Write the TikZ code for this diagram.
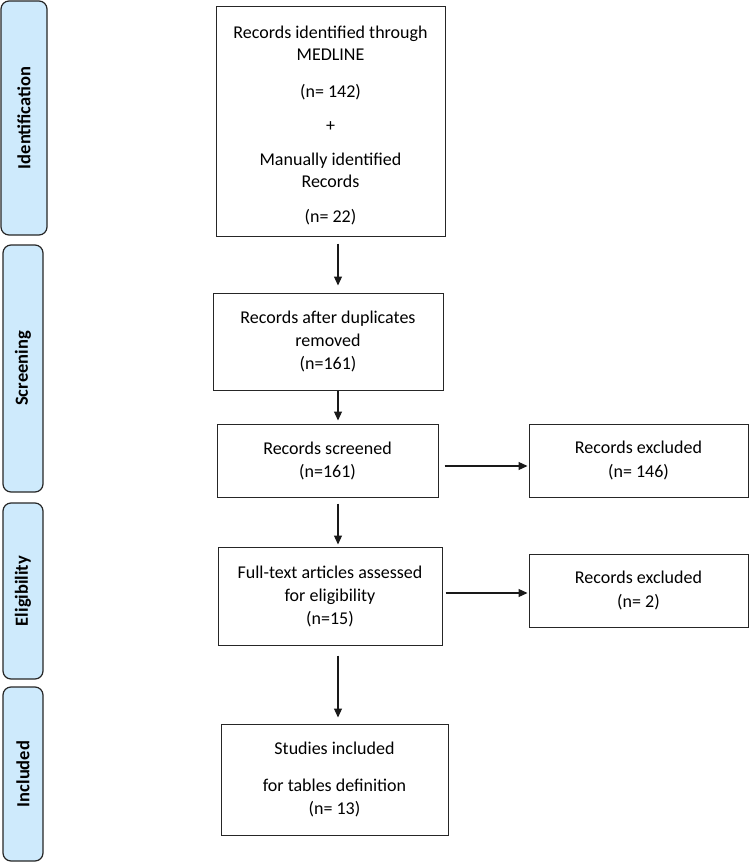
\documentclass[tikz,border=0pt]{standalone}
\usepackage{fontspec}
\setmainfont{Carlito}
\usetikzlibrary{arrows.meta,positioning}
\definecolor{phaseblue}{RGB}{206,234,252}
\tikzset{%
        >={Triangle[length=9pt,width=8pt]},
        x=1pt,
        y=-1pt
}
\tikzstyle{stepbox}=[
    draw = black!85,
    line width = 1pt,
    align = center,
    inner sep = 0pt,
    font = \fontsize{18}{23}\selectfont
]
\tikzstyle{phase}=[
    draw = black!85,
    fill = phaseblue,
    line width = 1.2pt,
    rounded corners = 8pt,
    rotate = 90,
    inner sep = 0pt,
    font = \bfseries\fontsize{18.5}{21}\selectfont
]
\tikzstyle{flow}=[
    ->,
    draw = black!90,
    line width = 1.2pt
]

\begin{document}
\begin{tikzpicture}
    \useasboundingbox (0,0) rectangle (749,864);
    % phases on the left
    \node[phase, minimum width=234, minimum height=46] (pid) at (24,118) {Identification};
    \node[phase, minimum width=247, minimum height=40] (pscr) at (23,368.5) {Screening};
    \node[phase, minimum width=176, minimum height=40] (pel) at (23,591) {Eligibility};
    \node[phase, minimum width=174, minimum height=40] (pinc) at (23,774) {Included};
    % main column
    \node[stepbox, minimum width=229, minimum height=229, font=\fontsize{18}{21.5}\selectfont] (id) at (330.5,121.5)
        {\rule{0pt}{21pt}Records identified through\\MEDLINE\\[16pt](n= 142)\\[12pt]+\\[13pt]Manually identified\\Records\\[14pt](n= 22)};
    \node[stepbox, minimum width=230, minimum height=97] (dup) at (328,341.5)
        {Records after duplicates\\removed\\(n=161)};
    \node[stepbox, minimum width=221, minimum height=73] (scr) at (327.5,460.5)
        {Records screened\\(n=161)};
    \node[stepbox, minimum width=224, minimum height=98] (full) at (330,596)
        {Full-text articles assessed\\for eligibility\\(n=15)};
    \node[stepbox, minimum width=227, minimum height=111] (incl) at (334.5,779.5)
        {Studies included\\[14pt]for tables definition\\(n= 13)};
    % exclusions
    \node[stepbox, minimum width=219, minimum height=73, font=\fontsize{18}{24.5}\selectfont] (exc1) at (638.5,460.5)
        {Records excluded\\(n= 146)};
    \node[stepbox, minimum width=219, minimum height=73, font=\fontsize{18}{24}\selectfont] (exc2) at (638.5,590.5)
        {Records excluded\\(n= 2)};
    % arrows
    \coordinate (axis) at (338,0);
    \coordinate (row1) at (0,466);
    \coordinate (row2) at (0,593);
    \draw[flow, shorten <=7pt, shorten >=7pt] (id.south -| axis) -- (dup.north -| axis);
    \draw[flow, shorten >=3pt] (dup.south -| axis) -- (scr.north -| axis);
    \draw[flow, shorten <=6pt, shorten >=2pt] (scr.south -| axis) -- (full.north -| axis);
    \draw[flow, shorten <=10pt, shorten >=6pt] (full.south -| axis) -- (incl.north -| axis);
    \draw[flow, shorten <=6pt, shorten >=1pt] (scr.east |- row1) -- (exc1.west |- row1);
    \draw[flow, shorten <=3pt, shorten >=1pt] (full.east |- row2) -- (exc2.west |- row2);
\end{tikzpicture}
\end{document}
